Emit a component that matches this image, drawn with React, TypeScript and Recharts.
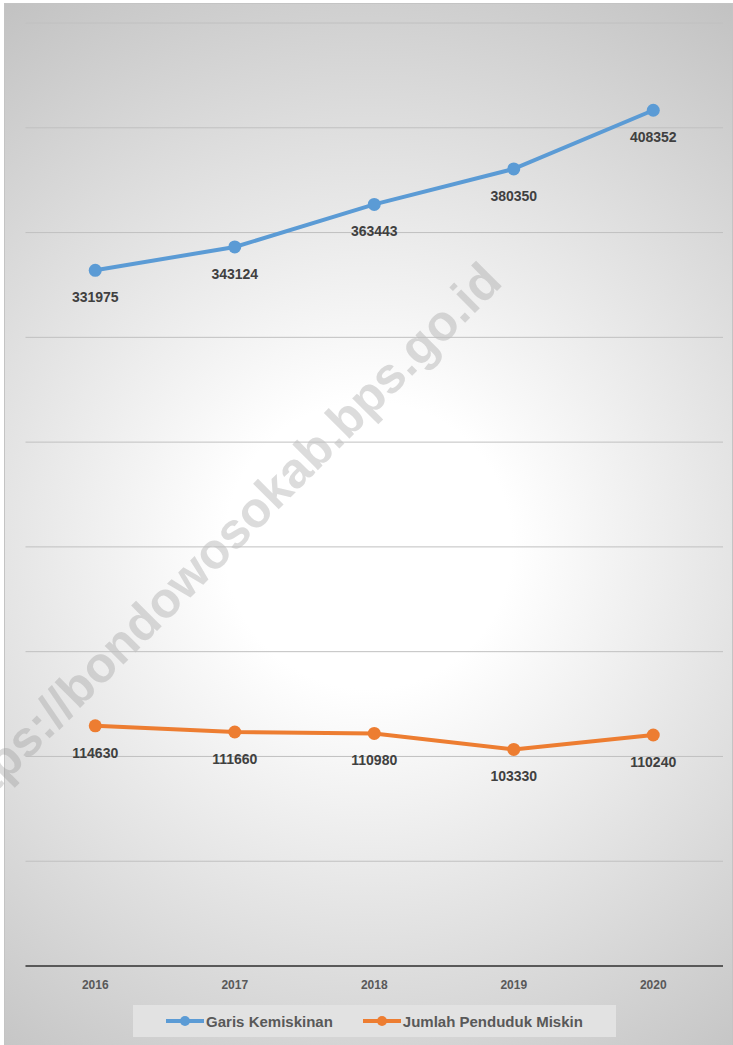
import { LineChart, Line, XAxis, YAxis, CartesianGrid, LabelList } from "recharts"

const years = ["2016", "2017", "2018", "2019", "2020"]
const garisKemiskinan = [331975, 343124, 363443, 380350, 408352]
const pendudukMiskin = [114630, 111660, 110980, 103330, 110240]
const yTicks = [0, 50000, 100000, 150000, 200000, 250000, 300000, 350000, 400000, 450000]

const data = years.map((tahun, i) => ({
  tahun,
  garis: garisKemiskinan[i],
  miskin: pendudukMiskin[i],
}))

const FONT = "'Liberation Sans', Arial, sans-serif"
const BLUE = "#5b9bd5"
const ORANGE = "#ed7d31"

function LegendItem({ color, label }: { color: string; label: string }) {
  return (
    <div style={{ display: "flex", alignItems: "center" }}>
      <svg width={38} height={12}>
        <line x1={0} y1={6} x2={38} y2={6} stroke={color} strokeWidth={4} />
        <circle cx={19} cy={6} r={5} fill={color} />
      </svg>
      <span style={{ marginLeft: 2 }}>{label}</span>
    </div>
  )
}

export default function App() {
  return (
    <div
      style={{
        position: "absolute",
        left: 0,
        top: 0,
        width: 733,
        height: 1045,
        background: "#fff",
        fontFamily: FONT,
      }}
    >
      <div
        style={{
          position: "absolute",
          left: 4,
          top: 3,
          width: 727,
          height: 1041,
          border: "1px solid #c4c4c4",
          background:
            "radial-gradient(circle farthest-corner at 50% 52%, #ffffff 0%, #ffffff 22%, #c2c2c2 100%)",
        }}
      />
      <svg width={733} height={1045} style={{ position: "absolute", left: 0, top: 0 }}>
        <text
          x={504}
          y={284}
          transform="rotate(-45 504 284)"
          textAnchor="end"
          fontFamily={FONT}
          fontWeight="bold"
          fontSize={50}
          fill="#8c8c8c"
          fillOpacity={0.3}
        >
          https://bondowosokab.bps.go.id
        </text>
      </svg>
      <div style={{ position: "absolute", left: 0, top: 0 }}>
        <LineChart
          width={733}
          height={1045}
          data={data}
          margin={{ top: 23, right: 10, left: 25.5, bottom: 49 }}
        >
          <CartesianGrid vertical={false} stroke="#c0c0c0" strokeWidth={1} />
          <YAxis hide domain={[0, 450000]} ticks={yTicks} />
          <XAxis
            dataKey="tahun"
            height={30}
            padding={{ left: 69.75, right: 69.75 }}
            axisLine={{ stroke: "#595959", strokeWidth: 2 }}
            tickLine={false}
            tickSize={0}
            tickMargin={14}
            tick={{ fontSize: 12, fontWeight: "bold", fill: "#595959", fontFamily: FONT }}
          />
          <Line
            dataKey="garis"
            stroke={BLUE}
            strokeWidth={4}
            dot={{ r: 6.5, fill: BLUE, stroke: BLUE, strokeWidth: 0 }}
            activeDot={false}
            isAnimationActive={false}
          >
            <LabelList
              dataKey="garis"
              position="bottom"
              offset={22}
              style={{ fontSize: 14, fontWeight: "bold", fill: "#404040", fontFamily: FONT }}
            />
          </Line>
          <Line
            dataKey="miskin"
            stroke={ORANGE}
            strokeWidth={4}
            dot={{ r: 6.5, fill: ORANGE, stroke: ORANGE, strokeWidth: 0 }}
            activeDot={false}
            isAnimationActive={false}
          >
            <LabelList
              dataKey="miskin"
              position="bottom"
              offset={22}
              style={{ fontSize: 14, fontWeight: "bold", fill: "#404040", fontFamily: FONT }}
            />
          </Line>
        </LineChart>
      </div>
      <div
        style={{
          position: "absolute",
          left: 133,
          top: 1005,
          width: 483,
          height: 32,
          background: "#e2e2e2",
          display: "flex",
          alignItems: "center",
          justifyContent: "center",
          gap: 30,
          fontSize: 15,
          fontWeight: "bold",
          color: "#595959",
        }}
      >
        <LegendItem color={BLUE} label="Garis Kemiskinan" />
        <LegendItem color={ORANGE} label="Jumlah Penduduk Miskin" />
      </div>
    </div>
  )
}
